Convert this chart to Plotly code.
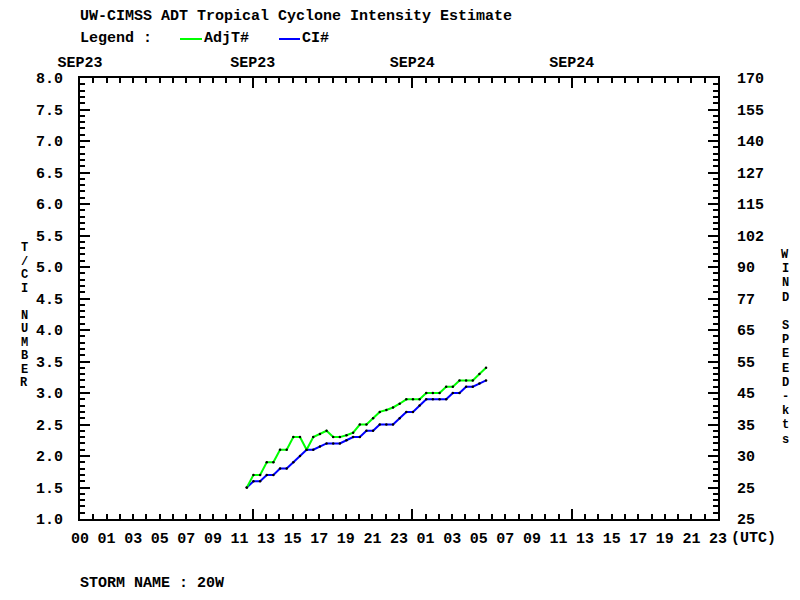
import plotly.graph_objects as go

# ---------------- data ----------------
hours = [12.55, 13.05, 13.55, 14.05, 14.55, 15.05, 15.55, 16.05, 16.55, 17.05,
         17.55, 18.05, 18.55, 19.05, 19.55, 20.05, 20.55, 21.05, 21.55, 22.05,
         22.55, 23.05, 23.55, 24.05, 24.55, 25.05, 25.55, 26.05, 26.55, 27.05,
         27.55, 28.05, 28.55, 29.05, 29.55, 30.05, 30.55]
adjt = [1.5, 1.7, 1.7, 1.9, 1.9, 2.1, 2.1, 2.3, 2.3, 2.1,
        2.3, 2.35, 2.4, 2.3, 2.3, 2.33, 2.37, 2.5, 2.5, 2.6,
        2.7, 2.73, 2.77, 2.83, 2.9, 2.9, 2.9, 3.0, 3.0, 3.0,
        3.1, 3.1, 3.2, 3.2, 3.2, 3.3, 3.4]
ci = [1.5, 1.6, 1.6, 1.7, 1.7, 1.8, 1.8, 1.9, 2.0, 2.1,
      2.1, 2.15, 2.2, 2.2, 2.2, 2.25, 2.3, 2.3, 2.4, 2.4,
      2.5, 2.5, 2.5, 2.6, 2.7, 2.7, 2.8, 2.9, 2.9, 2.9,
      2.9, 3.0, 3.0, 3.1, 3.1, 3.15, 3.2]

hour_tickvals = [0, 2, 4, 6, 8, 10, 12, 14, 16, 18, 20, 22, 24,
                 26, 28, 30, 32, 34, 36, 38, 40, 42, 44, 46, 48]
hour_ticktext = ["00", "01", "03", "05", "07", "09", "11", "13", "15", "17", "19", "21", "23",
                 "01", "03", "05", "07", "09", "11", "13", "15", "17", "19", "21", "23"]
major_hours = [13, 25, 37]
date_tickvals = [0, 13, 25, 37]
date_ticktext = ["SEP23", "SEP23", "SEP24", "SEP24"]
t_tickvals = [1.0, 1.5, 2.0, 2.5, 3.0, 3.5, 4.0, 4.5, 5.0, 5.5, 6.0, 6.5, 7.0, 7.5, 8.0]
t_ticktext = ["1.0", "1.5", "2.0", "2.5", "3.0", "3.5", "4.0", "4.5", "5.0", "5.5",
              "6.0", "6.5", "7.0", "7.5", "8.0"]
wind_ticktext = ["25", "25", "30", "35", "45", "55", "65", "77", "90", "102",
                 "115", "127", "140", "155", "170"]
left_title = ["T", "/", "C", "I", "", "N", "U", "M", "B", "E", "R"]
right_title = ["W", "I", "N", "D", "", "S", "P", "E", "E", "D", "-", "k", "t", "s"]

# ---------------- layout helpers ----------------
L, R, T, B = 80, 718, 78, 519
W, H = 800, 600


def px(x):
    return (x - L) / (R - L)


def py(y):
    return (B - y) / (B - T)


FONT = dict(family="Liberation Mono", size=15, color="black", weight="bold")
VFONT = dict(family="Liberation Mono", size=12, color="black", weight="bold")

fig = go.Figure()
fig.add_trace(go.Scatter(x=hours, y=ci, mode="lines+markers", name="CI#",
                         line=dict(color="#0000ff", width=2),
                         marker=dict(color="black", size=2.5)))
fig.add_trace(go.Scatter(x=hours, y=adjt, mode="lines+markers", name="AdjT#",
                         line=dict(color="#00ff00", width=2),
                         marker=dict(color="black", size=2.5)))
# invisible traces to activate overlay axes
fig.add_trace(go.Scatter(x=[0], y=[1], xaxis="x2", yaxis="y2", mode="markers",
                         marker=dict(opacity=0), hoverinfo="skip"))
fig.add_trace(go.Scatter(x=[0], y=[1], xaxis="x3", yaxis="y", mode="markers",
                         marker=dict(opacity=0), hoverinfo="skip"))

xr = [0, 48]
yr = [1, 8]

fig.update_layout(
    width=W, height=H,
    margin=dict(l=L, r=W - R, t=T, b=H - B, pad=0),
    paper_bgcolor="white", plot_bgcolor="white",
    showlegend=False,
    font=FONT,
    xaxis=dict(range=xr, tickmode="array", tickvals=major_hours, showticklabels=False,
               ticks="inside", ticklen=10, tickwidth=2, tickcolor="black",
               minor=dict(tickmode="linear", tick0=0, dtick=1, ticks="inside",
                          ticklen=5, tickwidth=2, tickcolor="black"),
               showline=True, linewidth=2, linecolor="black", mirror="ticks",
               showgrid=False, zeroline=False),
    xaxis3=dict(range=xr, overlaying="x", side="bottom", anchor="y",
                tickmode="array", tickvals=hour_tickvals, ticktext=hour_ticktext,
                ticks="", showline=False, showgrid=False, zeroline=False,
                ticklabelstandoff=8, tickfont=FONT),
    xaxis2=dict(range=xr, overlaying="x", side="top", anchor="y",
                tickmode="array", tickvals=date_tickvals, ticktext=date_ticktext,
                ticks="", showline=False, showgrid=False, zeroline=False,
                ticklabelstandoff=7, tickfont=FONT),
    yaxis=dict(range=yr, tickmode="array", tickvals=t_tickvals, ticktext=t_ticktext,
               ticks="inside", ticklen=10, tickwidth=2, tickcolor="black",
               minor=dict(tickmode="linear", tick0=1, dtick=0.1, ticks="inside",
                          ticklen=5, tickwidth=2, tickcolor="black"),
               showline=True, linewidth=2, linecolor="black", mirror="ticks",
               showgrid=False, zeroline=False, ticklabelstandoff=12, tickfont=FONT),
    yaxis2=dict(range=yr, overlaying="y", side="right", anchor="x",
                tickmode="array", tickvals=t_tickvals, ticktext=wind_ticktext,
                ticks="", showline=False, showgrid=False, zeroline=False,
                ticklabelstandoff=18, tickfont=FONT),
)

ann = []


def text(x, y, s, xanchor="left", font=FONT):
    ann.append(dict(x=px(x), y=py(y), xref="paper", yref="paper", text=s,
                    showarrow=False, xanchor=xanchor, yanchor="middle", font=font))


text(78, 16, "UW-CIMSS ADT Tropical Cyclone Intensity Estimate")
text(78, 39, "Legend :")
text(202, 39, "AdjT#")
text(300, 39, "CI#")
text(78, 583, "STORM NAME : 20W")
text(729, 538, "(UTC)")

# stacked vertical axis titles, one letter per row
for i, ch in enumerate(left_title):
    if ch:
        text(24, 248 + i * 13.5, ch, xanchor="center", font=VFONT)
for i, ch in enumerate(right_title):
    if ch:
        text(785, 255 + i * 14.2, ch, xanchor="center", font=VFONT)

fig.update_layout(annotations=ann)

shapes = [
    dict(type="line", xref="paper", yref="paper", x0=px(180), x1=px(202),
         y0=py(39), y1=py(39), line=dict(color="#00ff00", width=2)),
    dict(type="line", xref="paper", yref="paper", x0=px(279), x1=px(300),
         y0=py(39), y1=py(39), line=dict(color="#0000ff", width=2)),
]
fig.update_layout(shapes=shapes)

fig.write_html("out.html")
